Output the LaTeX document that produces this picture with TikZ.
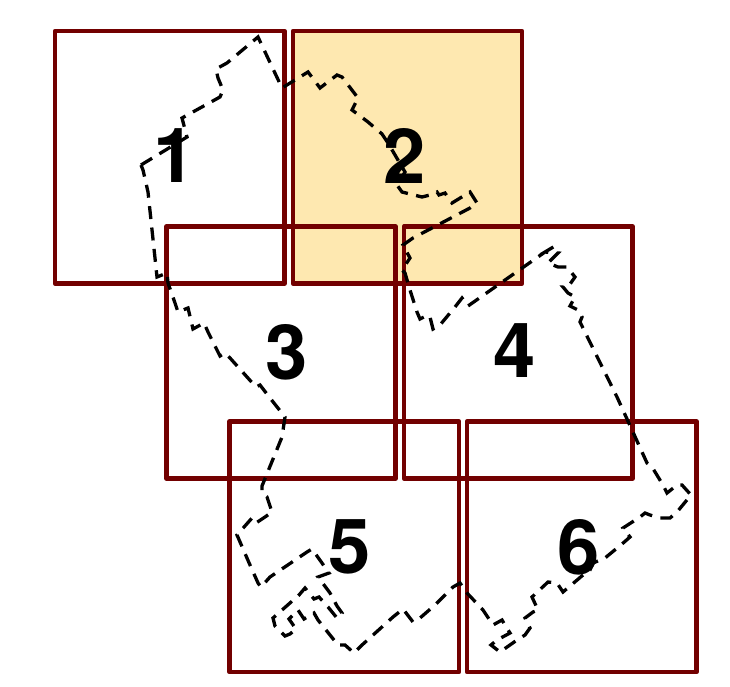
\documentclass[tikz,border=0pt]{standalone}
\usepackage{fontspec}
\setmainfont{TeX Gyre Heros}
\definecolor{sheetred}{HTML}{720000}
\definecolor{sheetfill}{HTML}{FEE8B0}
\tikzset{
  sheet/.style={draw=sheetred,line width=4.8pt,line join=round,inner sep=0pt,outer sep=0pt,anchor=north west},
  sheetnum/.style={inner sep=0pt,outer sep=0pt,font=\bfseries\fontsize{76}{76}\selectfont},
  boundary/.style={draw=black,line width=3.3pt,dash pattern=on 13pt off 8.5pt,line join=miter}
}
\begin{document}
\begin{tikzpicture}[x=1pt,y=-1pt]
\useasboundingbox (0,0) rectangle (730,687);
\node[sheet,fill=sheetfill,minimum width=229pt,minimum height=252.5pt] (s2) at (293,31) {};
\node[sheet,minimum width=229.5pt,minimum height=252.5pt] (s1) at (55,31) {};
\node[sheet,minimum width=229pt,minimum height=252pt] (s3) at (166.5,226.5) {};
\node[sheet,minimum width=228.5pt,minimum height=252pt] (s4) at (404,226.5) {};
\node[sheet,minimum width=229.5pt,minimum height=250.5pt] (s5) at (229.5,421.5) {};
\node[sheet,minimum width=229.5pt,minimum height=250.5pt] (s6) at (467,421.5) {};
\node[sheetnum] (n1) at (175,156) {1};
\node[sheetnum] (n2) at (404.5,156) {2};
\node[sheetnum] (n3) at (287,352) {3};
\node[sheetnum] (n4) at (515,351) {4};
\node[sheetnum] (n5) at (350,547) {5};
\node[sheetnum] (n6) at (579,547) {6};
\draw[boundary] (141,165) -- (187,137) -- (182,118) -- (220,97) -- (223,90) -- (218,78) -- (216,69) -- (227,63) -- (258,37) -- (282,88) -- (308,72) -- (320,88) -- (337,75) -- (342,77) -- (358,98) -- (352,110) -- (368,122) -- (382,134) -- (388,143) -- (405,172) -- (397,185) -- (402,192) -- (422,197) -- (430,195) -- (437,192) -- (439,195) -- (445,193) -- (452,203) -- (470,192) -- (477,203) -- (470,208) -- (413,238) -- (403,245) -- (410,258) -- (402,270) -- (405,273) -- (410,290) -- (417,312) -- (420,319) -- (428,315) -- (430,317) -- (433,329) -- (440,325) -- (455,307) -- (462,298) -- (468,306) -- (545,252) -- (555,246) -- (545,252) -- (558,253) -- (548,263) -- (558,267) -- (567,267) -- (575,277) -- (568,287) -- (563,287) -- (568,293) -- (575,297) -- (570,306) -- (578,310) -- (582,317) -- (580,322) -- (617,397) -- (647,463) -- (652,467) -- (663,485) -- (667,493) -- (677,485) -- (682,485) -- (691,495) -- (677,512) -- (670,518) -- (660,518) -- (650,515) -- (645,513) -- (640,517) -- (623,528) -- (630,537) -- (622,544) -- (605,558) -- (593,563) -- (590,570) -- (583,575) -- (563,592) -- (557,583) -- (548,582) -- (532,597) -- (538,610) -- (533,612) -- (525,618) -- (530,628) -- (525,635) -- (517,640) -- (500,652) -- (491,645) -- (497,640) -- (510,633) -- (505,625) -- (502,620) -- (493,625) -- (483,610) -- (467,593) -- (460,583) -- (453,587) -- (435,605) -- (420,618) -- (413,622) -- (403,609) -- (393,617) -- (362,645) -- (354,653) -- (345,645) -- (338,645) -- (318,620) -- (314,613) -- (304,619) -- (298,610) -- (289,619) -- (296,629) -- (290,634) -- (285,636) -- (275,626) -- (273,618) -- (299,595) -- (305,588) -- (314,599) -- (319,597) -- (328,607) -- (337,618) -- (342,613) -- (337,606) -- (330,593) -- (318,577) -- (329,573) -- (322,563) -- (312,549) -- (307,552) -- (270,577) -- (261,587) -- (258,583) -- (250,565) -- (237,535) -- (252,518) -- (256,523) -- (265,517) -- (272,512) -- (267,497) -- (262,493) -- (262,486) -- (282,437) -- (285,417) -- (270,398) -- (260,385) -- (256,387) -- (230,358) -- (225,353) -- (220,356) -- (208,332) -- (204,323) -- (193,329) -- (188,308) -- (183,310) -- (178,312) -- (175,303) -- (168,283) -- (167,273) -- (157,277) -- (148,192) -- (143,170) -- cycle;
\end{tikzpicture}
\end{document}
